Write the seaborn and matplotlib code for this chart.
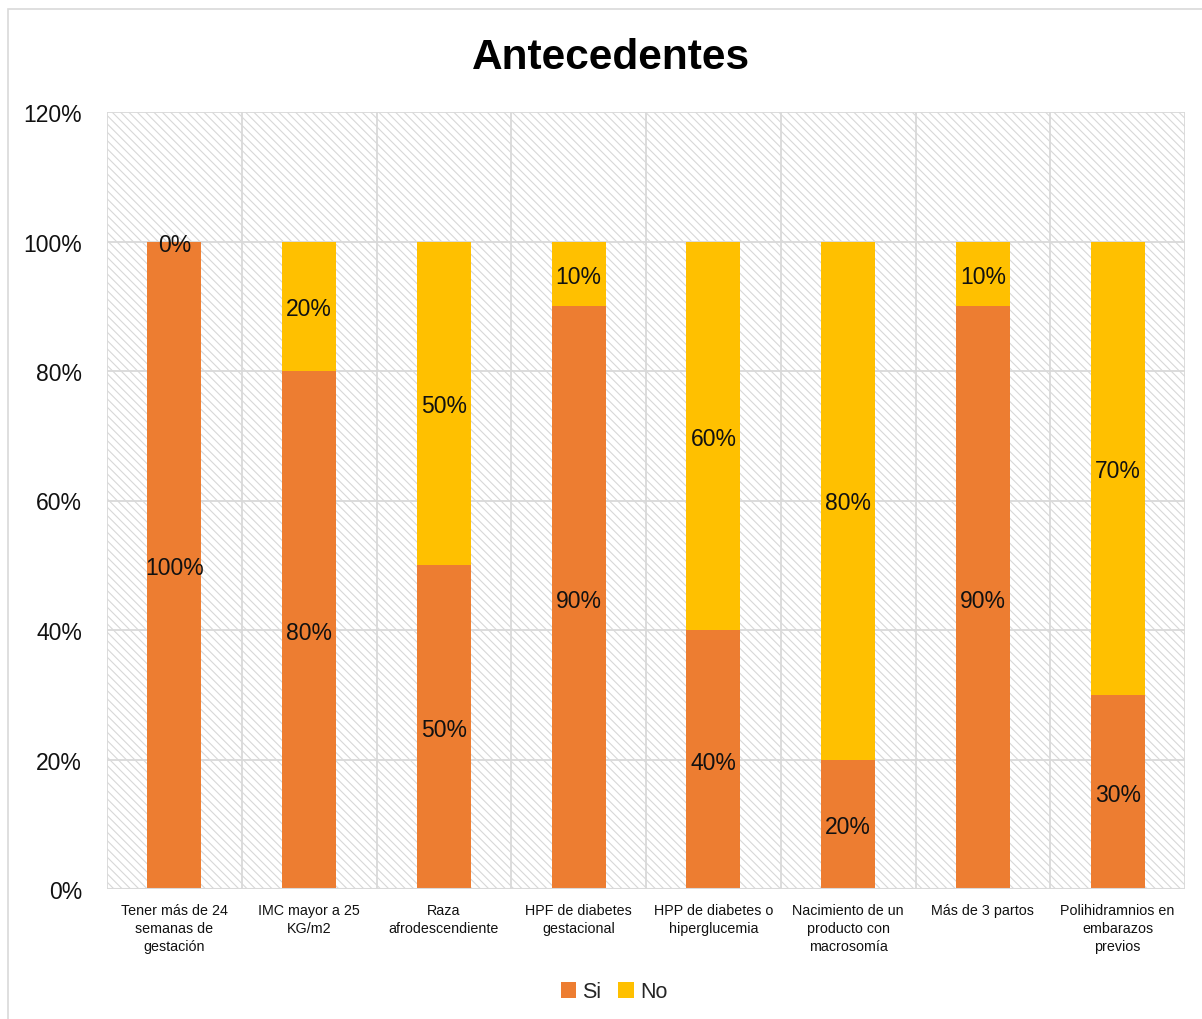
import matplotlib
matplotlib.use("Agg")
import matplotlib.pyplot as plt
import matplotlib.patches as mpatches
from matplotlib.ticker import FuncFormatter, MultipleLocator
import seaborn as sns
import pandas as pd

categories = [
    "Tener más de 24\nsemanas de\ngestación",
    "IMC mayor a 25\nKG/m2",
    "Raza\nafrodescendiente",
    "HPF de diabetes\ngestacional",
    "HPP de diabetes o\nhiperglucemia",
    "Nacimiento de un\nproducto con\nmacrosomía",
    "Más de 3 partos",
    "Polihidramnios en\nembarazos\nprevios",
]
si_values = [100, 80, 50, 90, 40, 20, 90, 30]
no_values = [0, 20, 50, 10, 60, 80, 10, 70]
series_names = ["Si", "No"]
title = "Antecedentes"

C_SI = "#ED7D31"
C_NO = "#FFC000"

sns.set_theme(style="white")
plt.rcParams["font.family"] = ["Liberation Sans", "DejaVu Sans"]
plt.rcParams["hatch.linewidth"] = 0.8

fig = plt.figure(figsize=(12.02, 10.2), dpi=100)
fig.patch.set_facecolor("white")
# outer chart border
fig.add_artist(mpatches.Rectangle((8 / 1202, -0.1), 1.2, 1 - 10 / 1020 + 0.1,
                                  transform=fig.transFigure, fill=False,
                                  edgecolor="#d9d9d9", linewidth=1.2))

ax = fig.add_axes([107 / 1202, 130 / 1020, (1185 - 107) / 1202, (890 - 113) / 1020])
ax.patch.set_facecolor("white")
ax.patch.set_hatch("\\" * 4)
ax.patch.set_edgecolor("#d8d8d8")

df = pd.DataFrame({
    "cat": categories,
    "si": si_values,
    "total": [s + n for s, n in zip(si_values, no_values)],
})

sns.barplot(data=df, x="cat", y="total", color=C_NO, saturation=1, width=0.4,
            ax=ax, edgecolor="none", zorder=3)
sns.barplot(data=df, x="cat", y="si", color=C_SI, saturation=1, width=0.4,
            ax=ax, edgecolor="none", zorder=3)

for i, (s, n) in enumerate(zip(si_values, no_values)):
    ax.text(i, s / 2, f"{s}%", ha="center", va="center_baseline", fontsize=16.5,
            color="#111111", zorder=5)
    ax.text(i, s + n / 2, f"{n}%", ha="center", va="center_baseline", fontsize=16.5,
            color="#111111", zorder=5)

ax.set_xlim(-0.5, len(categories) - 0.5)
ax.set_ylim(0, 120)
ax.yaxis.set_major_locator(MultipleLocator(20))
ax.yaxis.set_major_formatter(FuncFormatter(lambda v, p: f"{int(v)}%"))
ax.tick_params(axis="y", labelsize=16.5, length=0, pad=18, colors="#111111")
ax.tick_params(axis="x", labelsize=10.3, length=0, pad=10, colors="#111111")
for lab in ax.get_xticklabels():
    lab.set_linespacing(1.35)
ax.set_xlabel("")
ax.set_ylabel("")

# gridlines: horizontal and category boundaries
ax.grid(False)
for y in range(0, 121, 20):
    ax.axhline(y, color="#d9d9d9", linewidth=1.3, zorder=1)
for b in range(len(categories) + 1):
    ax.axvline(b - 0.5, color="#d9d9d9", linewidth=1.3, zorder=1)
for sp in ax.spines.values():
    sp.set_visible(False)
ax.axhline(0, color="#d9d9d9", linewidth=1.5, zorder=4)

fig.text(611 / 1202, 1 - 58 / 1020, title, ha="center", va="center",
         fontsize=30.5, fontweight="bold", color="#000000")

handles = [mpatches.Patch(facecolor=C_SI, edgecolor="none", label=series_names[0]),
           mpatches.Patch(facecolor=C_NO, edgecolor="none", label=series_names[1])]
fig.legend(handles=handles, loc="center", bbox_to_anchor=(614 / 1202, 1 - 993 / 1020),
           ncol=2, frameon=False, fontsize=15.5, handlelength=0.7, handleheight=0.7,
           handletextpad=0.3, columnspacing=0.8)

fig.savefig("out.png", dpi=100, facecolor="white")
